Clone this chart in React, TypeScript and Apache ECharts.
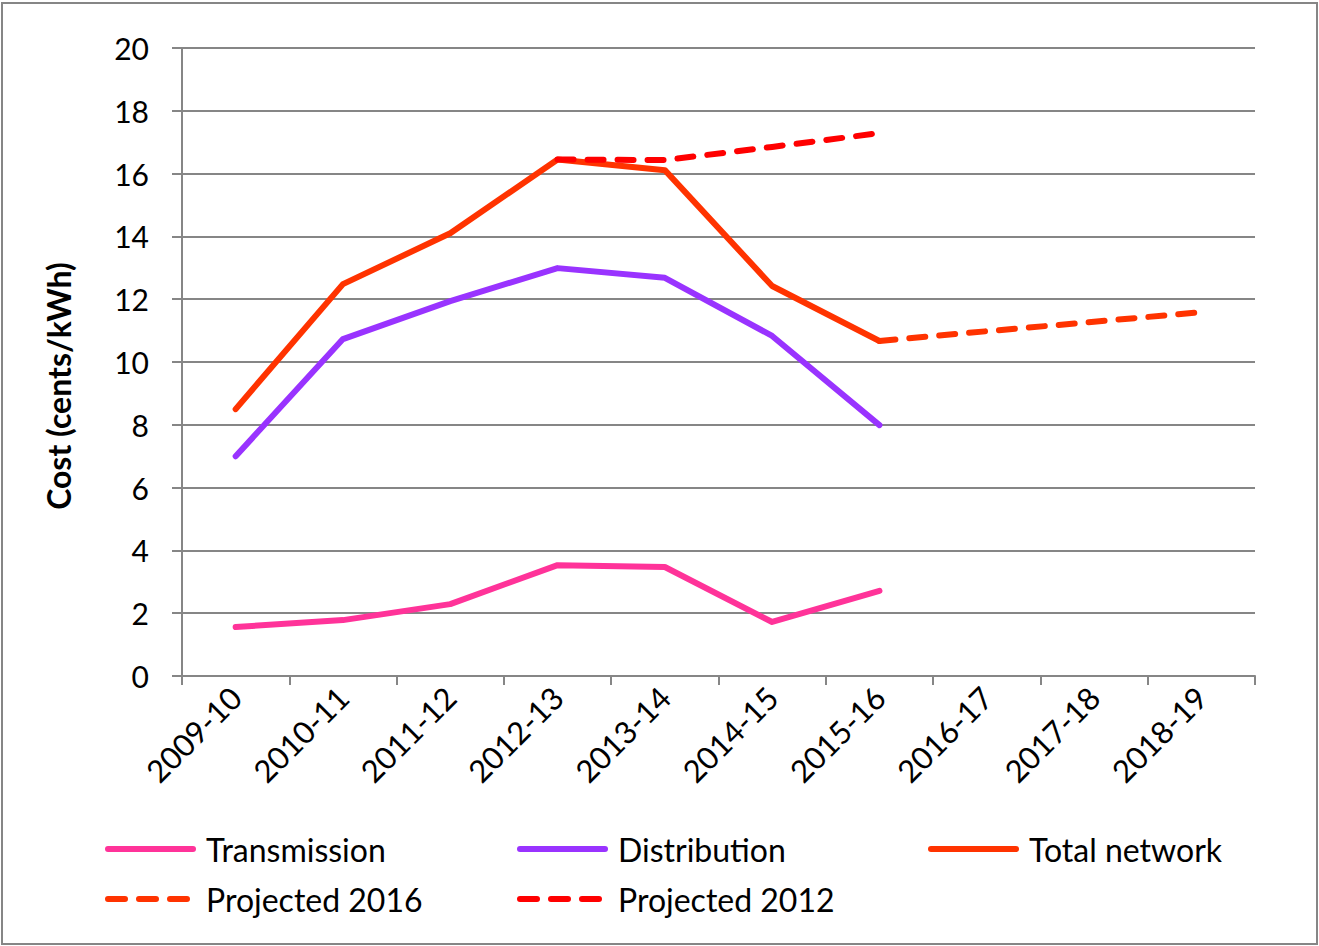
import React, { useEffect, useRef } from "react";
import * as echarts from "echarts";

const categories = ["2009-10", "2010-11", "2011-12", "2012-13", "2013-14", "2014-15", "2015-16", "2016-17", "2017-18", "2018-19"];
const transmission = [1.56, 1.78, 2.29, 3.53, 3.47, 1.72, 2.71, null, null, null];
const distribution = [7.0, 10.73, 11.94, 12.99, 12.68, 10.83, 7.99, null, null, null];
const totalNetwork = [8.5, 12.48, 14.1, 16.45, 16.11, 12.42, 10.67, null, null, null];
const projected2016 = [null, null, null, null, null, null, 10.67, 10.98, 11.28, 11.59];
const projected2012 = [null, null, null, 16.45, 16.43, 16.85, 17.29, null, null, null];
const yTicks = { min: 0, max: 20, interval: 2 };

const FONT = "Lato";
const GRAY = "#868686";

const roundSeg = (x0: number, x1: number) =>
  `M${x0 + 3},0 H${x1 - 3} A3,3 0 0 1 ${x1 - 3},6 H${x0 + 3} A3,3 0 0 1 ${x0 + 3},0 Z`;
const SOLID_ICON = "path://" + roundSeg(0, 91);
const DASH_ICON = "path://" + roundSeg(0, 23) + " " + roundSeg(31, 54) + " " + roundSeg(62, 85);

export default function App() {
  const ref = useRef<HTMLDivElement>(null);
  useEffect(() => {
    const chart = echarts.init(ref.current!, null, { renderer: "svg" });
    const dash = [16, 14];
    const mk = (name: string, data: any[], color: string, dashed: boolean) => ({
      name,
      type: "line",
      data,
      symbol: "none",
      connectNulls: false,
      lineStyle: { color, width: 6, type: dashed ? dash : "solid", cap: "round", join: "round" },
      itemStyle: { color },
    });
    const legendSolid = {
      itemWidth: 91,
      itemHeight: 6,
      itemGap: 0,
      textStyle: { fontFamily: FONT, fontSize: 32, color: "#000", padding: [0, 0, 0, 5] },
      padding: 0,
    };
    const legendDash = {
      ...legendSolid,
      itemWidth: 85,
      textStyle: { fontFamily: FONT, fontSize: 32, color: "#000", padding: [0, 0, 0, 11] },
    };
    chart.setOption({
      animation: false,
      backgroundColor: "#fff",
      grid: { left: 182, right: 64, top: 48, bottom: 270 },
      xAxis: {
        type: "category",
        data: categories,
        boundaryGap: true,
        axisLine: { lineStyle: { color: GRAY, width: 2 } },
        axisTick: { show: true, length: 9, lineStyle: { color: GRAY, width: 2 } },
        axisLabel: { rotate: 45, margin: 16, fontFamily: FONT, fontSize: 31, color: "#000", interval: 0 },
        splitLine: { show: false },
      },
      yAxis: {
        type: "value",
        min: yTicks.min,
        max: yTicks.max,
        interval: yTicks.interval,
        axisLine: { show: true, lineStyle: { color: GRAY, width: 2 } },
        axisTick: { show: true, length: 10, lineStyle: { color: GRAY, width: 2 } },
        axisLabel: { margin: 33, fontFamily: FONT, fontSize: 30, color: "#000" },
        splitLine: { show: true, lineStyle: { color: GRAY, width: 2 } },
      },
      legend: [
        { ...legendSolid, data: [{ name: "Transmission", icon: SOLID_ICON }], left: 105, top: 833 },
        { ...legendSolid, data: [{ name: "Distribution", icon: SOLID_ICON }], left: 517, top: 833 },
        { ...legendSolid, data: [{ name: "Total network", icon: SOLID_ICON }], left: 928, top: 833 },
        { ...legendDash, data: [{ name: "Projected 2016", icon: DASH_ICON }], left: 105, top: 883 },
        { ...legendDash, data: [{ name: "Projected 2012", icon: DASH_ICON }], left: 517, top: 883 },
      ],
      graphic: [
        {
          type: "rect",
          shape: { x: 2, y: 3, width: 1315, height: 941 },
          style: { fill: "none", stroke: GRAY, lineWidth: 2 },
          silent: true,
        },
        {
          type: "text",
          x: 58,
          y: 386,
          rotation: Math.PI / 2,
          style: {
            text: "Cost (cents/kWh)",
            fontFamily: FONT,
            fontSize: 32,
            fontWeight: "bold",
            fill: "#000",
            textAlign: "center",
            textVerticalAlign: "middle",
          },
        },
      ],
      series: [
        mk("Transmission", transmission, "#FF3399", false),
        mk("Distribution", distribution, "#9933FF", false),
        mk("Total network", totalNetwork, "#FF3300", false),
        mk("Projected 2016", projected2016, "#FF3300", true),
        mk("Projected 2012", projected2012, "#FF0000", true),
      ],
    });
    return () => chart.dispose();
  }, []);
  return <div ref={ref} style={{ position: "absolute", left: 0, top: 0, width: 1319, height: 946 }} />;
}
